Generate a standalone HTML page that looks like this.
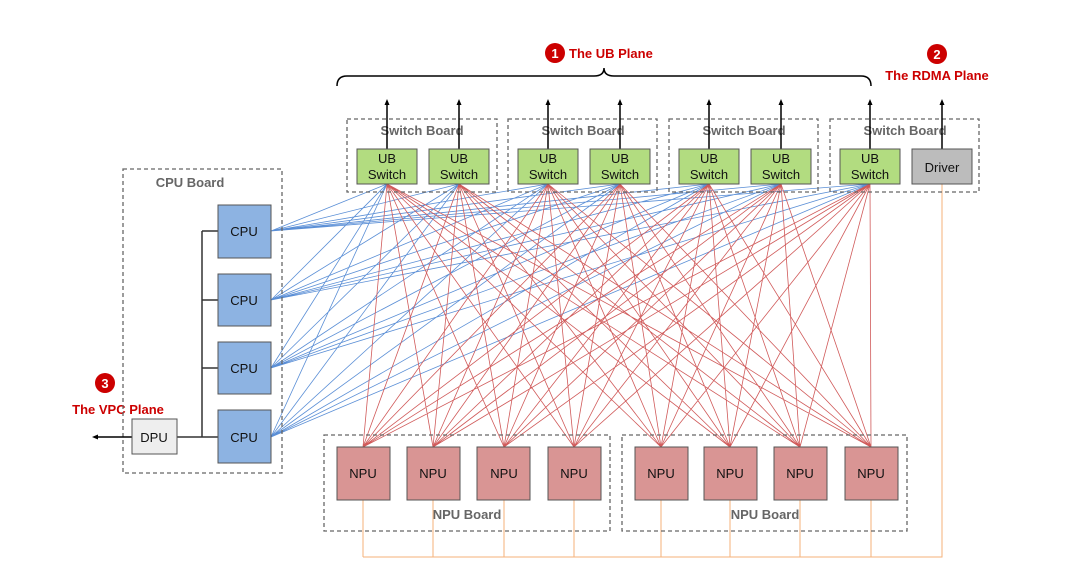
<!DOCTYPE html>
<html><head><meta charset="utf-8"><style>
body{margin:0;background:#fff;}
svg{display:block;font-family:"Liberation Sans",Arial,sans-serif;}
</style></head><body>
<svg width="1080" height="565" viewBox="0 0 1080 565" xmlns="http://www.w3.org/2000/svg">
<defs><marker id="ah" markerWidth="6" markerHeight="6" refX="3" refY="3" orient="auto" markerUnits="userSpaceOnUse"><path d="M0,0.5 L6,3 L0,5.5 Z" fill="#000"/></marker></defs>
<path fill="none" stroke="#5b8fd6" stroke-width="0.8" d="
M271 231L387 184M271 231L459 184M271 231L548 184M271 231L620 184M271 231L709 184M271 231L781 184M271 231L870 184
M271 300L387 184M271 300L459 184M271 300L548 184M271 300L620 184M271 300L709 184M271 300L781 184M271 300L870 184
M271 368L387 184M271 368L459 184M271 368L548 184M271 368L620 184M271 368L709 184M271 368L781 184M271 368L870 184
M271 437L387 184M271 437L459 184M271 437L548 184M271 437L620 184M271 437L709 184M271 437L781 184M271 437L870 184"/>
<path fill="none" stroke="#d05a5a" stroke-width="0.8" d="
M387 184L363 447M387 184L433 447M387 184L504 447M387 184L574 447M387 184L661 447M387 184L730 447M387 184L800 447M387 184L871 447
M459 184L363 447M459 184L433 447M459 184L504 447M459 184L574 447M459 184L661 447M459 184L730 447M459 184L800 447M459 184L871 447
M548 184L363 447M548 184L433 447M548 184L504 447M548 184L574 447M548 184L661 447M548 184L730 447M548 184L800 447M548 184L871 447
M620 184L363 447M620 184L433 447M620 184L504 447M620 184L574 447M620 184L661 447M620 184L730 447M620 184L800 447M620 184L871 447
M709 184L363 447M709 184L433 447M709 184L504 447M709 184L574 447M709 184L661 447M709 184L730 447M709 184L800 447M709 184L871 447
M781 184L363 447M781 184L433 447M781 184L504 447M781 184L574 447M781 184L661 447M781 184L730 447M781 184L800 447M781 184L871 447
M870 184L363 447M870 184L433 447M870 184L504 447M870 184L574 447M870 184L661 447M870 184L730 447M870 184L800 447M870 184L871 447"/>
<path fill="none" stroke="#f5b27a" stroke-width="1" d="M363 500V557M433 500V557M504 500V557M574 500V557M661 500V557M730 500V557M800 500V557M871 500V557M363 557H942V184"/>
<path d="M337,86 Q337,76 347,76 L594,76 Q604,76 604,68 Q604,76 614,76 L861,76 Q871,76 871,86" fill="none" stroke="#000" stroke-width="1.5"/>
<circle cx="555" cy="53" r="10" fill="#c00"/><text x="555" y="58" font-size="13" font-weight="bold" fill="#fff" text-anchor="middle">1</text>
<text x="569" y="58" font-size="13" font-weight="bold" fill="#c00">The UB Plane</text>
<circle cx="937" cy="54" r="10" fill="#c00"/><text x="937" y="59" font-size="13" font-weight="bold" fill="#fff" text-anchor="middle">2</text>
<text x="937" y="80" font-size="13" font-weight="bold" fill="#c00" text-anchor="middle">The RDMA Plane</text>
<circle cx="105" cy="383" r="10" fill="#c00"/><text x="105" y="388" font-size="13" font-weight="bold" fill="#fff" text-anchor="middle">3</text>
<text x="118" y="414" font-size="13" font-weight="bold" fill="#c00" text-anchor="middle">The VPC Plane</text>
<g fill="none" stroke="#666" stroke-width="1.3" stroke-dasharray="4,3">
<rect x="347" y="119" width="150" height="73"/><rect x="508" y="119" width="149" height="73"/>
<rect x="669" y="119" width="149" height="73"/><rect x="830" y="119" width="149" height="73"/>
<rect x="123" y="169" width="159" height="304"/>
<rect x="324" y="435" width="286" height="96"/><rect x="622" y="435" width="285" height="96"/>
</g>
<g font-size="13" font-weight="bold" fill="#666" text-anchor="middle">
<text x="422" y="135">Switch Board</text><text x="583" y="135">Switch Board</text>
<text x="744" y="135">Switch Board</text><text x="905" y="135">Switch Board</text>
<text x="190" y="187">CPU Board</text>
<text x="467" y="519">NPU Board</text><text x="765" y="519">NPU Board</text>
</g>
<g stroke="#000" stroke-width="1.5" marker-end="url(#ah)">
<line x1="387" y1="149" x2="387" y2="102"/><line x1="459" y1="149" x2="459" y2="102"/>
<line x1="548" y1="149" x2="548" y2="102"/><line x1="620" y1="149" x2="620" y2="102"/>
<line x1="709" y1="149" x2="709" y2="102"/><line x1="781" y1="149" x2="781" y2="102"/>
<line x1="870" y1="149" x2="870" y2="102"/><line x1="942" y1="149" x2="942" y2="102"/>
<line x1="132" y1="437" x2="95" y2="437"/>
</g>
<g fill="#b2dc80" stroke="#555" stroke-width="1">
<rect x="357" y="149" width="60" height="35"/><rect x="429" y="149" width="60" height="35"/>
<rect x="518" y="149" width="60" height="35"/><rect x="590" y="149" width="60" height="35"/>
<rect x="679" y="149" width="60" height="35"/><rect x="751" y="149" width="60" height="35"/>
<rect x="840" y="149" width="60" height="35"/>
</g>
<rect x="912" y="149" width="60" height="35" fill="#bcbcbc" stroke="#555"/>
<g font-size="13" fill="#111" text-anchor="middle">
<text x="387" y="163">UB</text><text x="387" y="179">Switch</text>
<text x="459" y="163">UB</text><text x="459" y="179">Switch</text>
<text x="548" y="163">UB</text><text x="548" y="179">Switch</text>
<text x="620" y="163">UB</text><text x="620" y="179">Switch</text>
<text x="709" y="163">UB</text><text x="709" y="179">Switch</text>
<text x="781" y="163">UB</text><text x="781" y="179">Switch</text>
<text x="870" y="163">UB</text><text x="870" y="179">Switch</text>
<text x="942" y="172">Driver</text>
</g>
<g stroke="#333" stroke-width="1.5" fill="none">
<line x1="202" y1="231" x2="202" y2="437"/>
<line x1="202" y1="231" x2="218" y2="231"/><line x1="202" y1="300" x2="218" y2="300"/>
<line x1="202" y1="368" x2="218" y2="368"/><line x1="177" y1="437" x2="218" y2="437"/>
</g>
<g fill="#8db3e2" stroke="#555">
<rect x="218" y="205" width="53" height="53"/><rect x="218" y="274" width="53" height="52"/>
<rect x="218" y="342" width="53" height="52"/><rect x="218" y="410" width="53" height="53"/>
</g>
<rect x="132" y="419" width="45" height="35" fill="#eee" stroke="#555"/>
<g font-size="13" fill="#111" text-anchor="middle">
<text x="244" y="236">CPU</text><text x="244" y="305">CPU</text><text x="244" y="373">CPU</text><text x="244" y="442">CPU</text>
<text x="154" y="442">DPU</text>
</g>
<g fill="#d99594" stroke="#555">
<rect x="337" y="447" width="53" height="53"/><rect x="407" y="447" width="53" height="53"/>
<rect x="477" y="447" width="53" height="53"/><rect x="548" y="447" width="53" height="53"/>
<rect x="635" y="447" width="53" height="53"/><rect x="704" y="447" width="53" height="53"/>
<rect x="774" y="447" width="53" height="53"/><rect x="845" y="447" width="53" height="53"/>
</g>
<g font-size="13" fill="#111" text-anchor="middle">
<text x="363" y="478">NPU</text><text x="433" y="478">NPU</text><text x="504" y="478">NPU</text><text x="574" y="478">NPU</text>
<text x="661" y="478">NPU</text><text x="730" y="478">NPU</text><text x="800" y="478">NPU</text><text x="871" y="478">NPU</text>
</g>
</svg>
</body></html>
